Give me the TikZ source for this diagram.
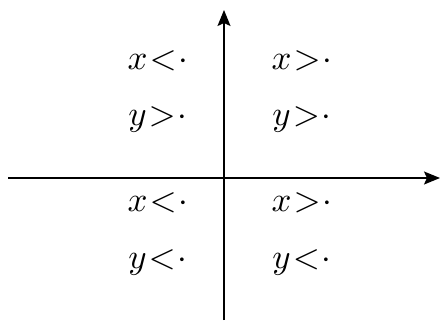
\documentclass[tikz,border=0pt]{standalone}
\usepackage{graphicx}
\usetikzlibrary{arrows.meta}
\newcommand{\lessdot}[1]{\scalebox{3.5}{$#1\mkern1mu{<}\mkern1mu\cdot$}}
\newcommand{\moredot}[1]{\scalebox{3.5}{$#1\mkern1mu{>}\mkern1mu\cdot$}}

\begin{document}
\begin{tikzpicture}[
  x=1bp, y=1bp,
  axis/.style={line width=1.5bp, -{Stealth[length=16bp, width=13bp, inset=3bp]}},
  cond/.style={inner sep=0pt, anchor=base}]
\useasboundingbox (0,0) rectangle (440,320);
\coordinate (xl) at (8,142);
\coordinate (xr) at (440,142);
\coordinate (yb) at (224,0);
\coordinate (yt) at (224,310);
\draw[axis] (xl) -- (xr);
\draw[axis] (yb) -- (yt);
\node[cond] (q2x) at (158,251) {\lessdot{x}};
\node[cond] (q2y) at (158,195) {\moredot{y}};
\node[cond] (q1x) at (302,251) {\moredot{x}};
\node[cond] (q1y) at (302,195) {\moredot{y}};
\node[cond] (q3x) at (158,109) {\lessdot{x}};
\node[cond] (q3y) at (158,52) {\lessdot{y}};
\node[cond] (q4x) at (302,109) {\moredot{x}};
\node[cond] (q4y) at (302,52) {\lessdot{y}};
\end{tikzpicture}
\end{document}
